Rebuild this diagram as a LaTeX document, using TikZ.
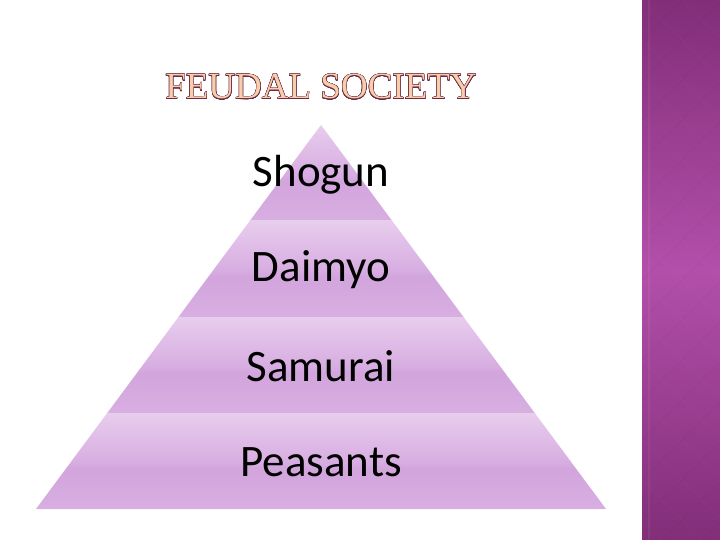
\documentclass[tikz,border=0pt]{standalone}
\usepackage{fontspec}
\usepackage{contour}
\setmainfont{Liberation Serif}
\newfontfamily\labelfont{Carlito}
\contourlength{0.35pt}
\contournumber{24}
\definecolor{barDark}{HTML}{480E42}
\definecolor{barQuarter}{HTML}{7C2A72}
\definecolor{barMid}{HTML}{B24FAA}
\definecolor{titleFill}{HTML}{F8CDAA}
\definecolor{titleLine}{HTML}{6A2A48}
\definecolor{bandA}{HTML}{E0BCE8}
\definecolor{bandB}{HTML}{DAB2E3}
\definecolor{bandC}{HTML}{D2A5DD}
\definecolor{bandD}{HTML}{D7ADE1}
\definecolor{bandE}{HTML}{E3C4EA}
\definecolor{bandF}{HTML}{EEDAF2}
\definecolor{bandG}{HTML}{F5E9F8}
\pgfdeclareverticalshading{bandshade}{100bp}{%
  color(0bp)=(bandA);
  color(18bp)=(bandB);
  color(46bp)=(bandC);
  color(49bp)=(bandD);
  color(68bp)=(bandE);
  color(84bp)=(bandF);
  color(100bp)=(bandG)}
\pgfdeclareverticalshading{barshade}{100bp}{%
  color(0bp)=(barDark);
  color(22bp)=(barQuarter);
  color(50bp)=(barMid);
  color(78bp)=(barQuarter);
  color(100bp)=(barDark)}
\tikzset{
  lbl/.style={font=\labelfont\fontsize{45}{48}\selectfont, text=black, inner sep=0pt},
  ttl/.style={font=\fontsize{37}{40}\selectfont, inner sep=0pt}
}
\begin{document}
\begin{tikzpicture}[x=1pt,y=-1pt]
\useasboundingbox (0,0) rectangle (720,540);
\fill[white] (0,0) rectangle (720,540);
% right bar
\shade[shading=barshade] (642,0) rectangle (720,540);
\begin{scope}
\clip (642,0) rectangle (720,540);
\foreach \k in {-12,...,14} {
  \draw[white, opacity=0.03, line width=0.6pt] (642,{\k*40}) -- ++(80,80);
  \draw[black, opacity=0.03, line width=0.6pt] (722,{\k*40}) -- ++(-80,80);
}
\end{scope}
\fill[white, opacity=0.06] (648,0) rectangle (650,540);
% pyramid
\coordinate (apex) at (321,125);
\coordinate (bl) at (36,509);
\coordinate (br) at (606,509);
\begin{scope}
\clip (apex) -- (br) -- (bl) -- cycle;
\foreach \t in {125,221,317,413} {
  \shade[shading=bandshade] (30,\t) rectangle (612,{\t+96});
}
\end{scope}
% labels
\node[lbl] (shogun) at (321,175) {Shogun};
\node[lbl] (daimyo) at (321,270) {Daimyo};
\node[lbl] (samurai) at (321,366) {Samurai};
\node[lbl] (peasants) at (321,462) {Peasants};
% title
\node[ttl, anchor=base] (title) at (321,99) {\contour{titleLine}{\textcolor{titleFill}{FEUDAL SOCIETY}}};
\end{tikzpicture}
\end{document}
